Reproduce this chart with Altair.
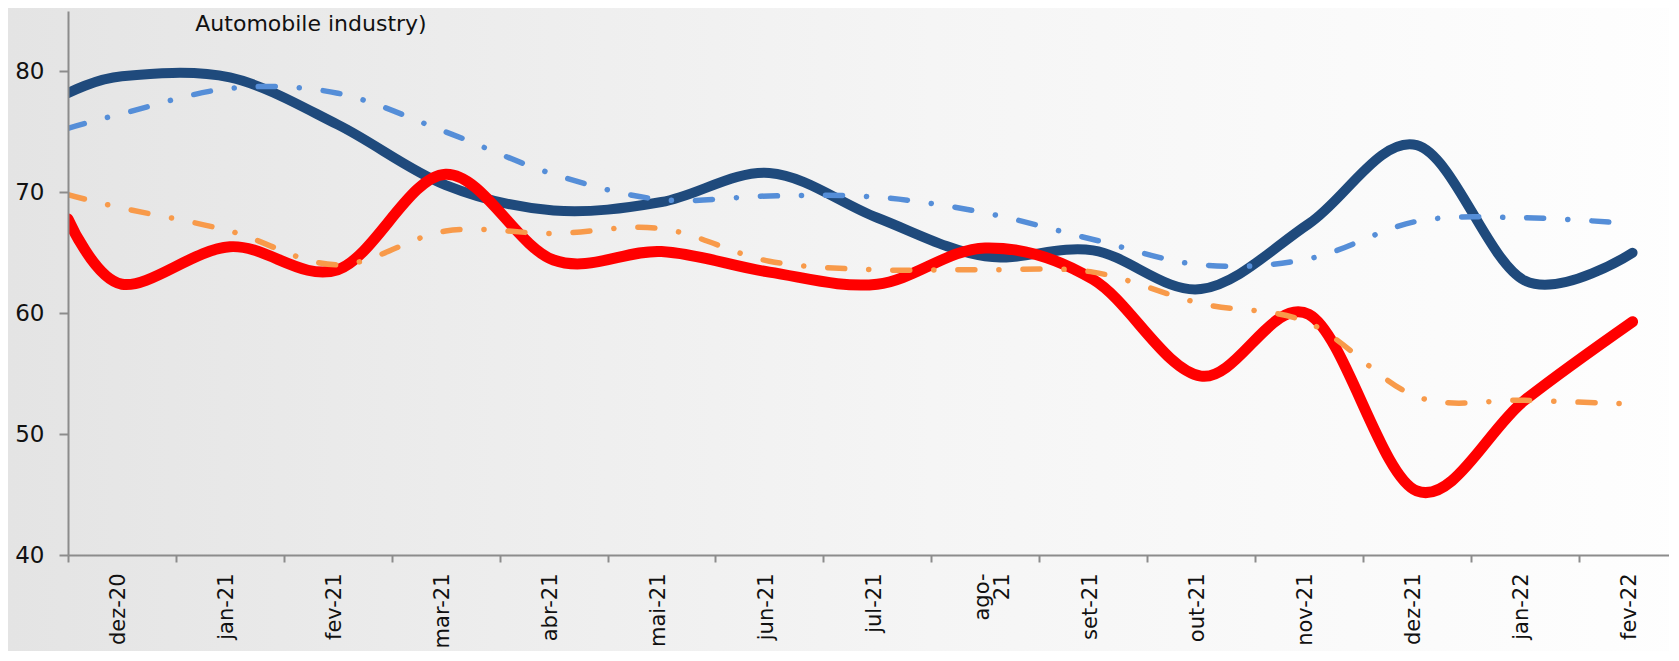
import json
import altair as alt
import pandas as pd

# ---------------- data ----------------
months = ["dez-20", "jan-21", "fev-21", "mar-21", "abr-21", "mai-21", "jun-21",
          "jul-21", "ago-21", "set-21", "out-21", "nov-21", "dez-21", "jan-22", "fev-22"]

navy_vals = [79.6, 79.5, 75.6, 70.6, 68.5, 69.2, 71.6, 67.9, 64.7, 65.2, 62.0, 67.4, 73.9, 62.7, 65.0]
red_vals = [62.4, 65.5, 63.6, 71.5, 64.4, 65.1, 63.4, 62.4, 65.4, 62.8, 54.8, 59.9, 45.3, 52.8, 59.3]
blue_vals = [76.5, 78.6, 78.2, 75.0, 71.5, 69.4, 69.7, 69.6, 68.3, 66.1, 64.0, 64.5, 67.6, 67.9, 67.4]
orange_vals = [68.7, 66.8, 64.0, 66.8, 66.6, 67.0, 64.3, 63.6, 63.6, 63.4, 60.8, 59.2, 53.1, 52.8, 52.5]

# value of each curve where it meets the left edge of the plot (y axis)
edge_vals = {"navy": 78.2, "red": 67.8, "blue": 75.3, "orange": 69.8}

y_ticks = [40, 50, 60, 70, 80]
title_text = "Automobile industry)"

# ---------------- table ----------------
series = {"navy": navy_vals, "red": red_vals, "blue": blue_vals, "orange": orange_vals}
rows = []
for name, vals in series.items():
    rows.append({"series": name, "pos": -0.5, "value": edge_vals[name]})
    for i, v in enumerate(vals):
        rows.append({"series": name, "pos": i, "value": v})
df = pd.DataFrame(rows)

# ---------------- layout ----------------
FONT = "DejaVu Sans"
W = 1601
H = 544
STEP = 107.9
XMAX = -0.5 + W / STEP

label_parts = [m if m != "ago-21" else ["ago-", "21"] for m in months]
label_expr = json.dumps(label_parts) + "[round(datum.value + 0.5)]"

x_scale = alt.Scale(domain=[-0.5, XMAX], nice=False, zero=False)
y_scale = alt.Scale(domain=[40, 85], nice=False, zero=False)

x_axis = alt.Axis(
    values=[k - 0.5 for k in range(len(months))],
    labelExpr=label_expr,
    labelAngle=270, labelAlign="right", labelBaseline="middle",
    labelOffset=STEP / 2 - 3, labelPadding=11, labelLineHeight=20,
    labelFont=FONT, labelFontSize=21, labelColor="#111111",
    labelFlush=False, labelOverlap=False, labelBound=False,
    tickSize=7, tickWidth=2, tickColor="#8c8c8c",
    domainColor="#8c8c8c", domainWidth=2,
    grid=False, title=None, zindex=1,
)
y_axis = alt.Axis(
    values=y_ticks,
    labelFont=FONT, labelFontSize=23, labelColor="#111111", labelPadding=15,
    tickSize=9, tickWidth=2, tickColor="#8c8c8c",
    domainColor="#8c8c8c", domainWidth=2,
    grid=False, title=None, zindex=1,
)

gradient = alt.LinearGradient(
    gradient="linear",
    stops=[alt.GradientStop(offset=0, color="#e4e4e4"),
           alt.GradientStop(offset=0.55, color="#f5f5f5"),
           alt.GradientStop(offset=1, color="#fefefe")],
    x1=0, x2=1, y1=0, y2=0,
)

bg = alt.Chart(alt.Data(values=[{"k": 1}])).mark_rect(fill=gradient, clip=False).encode(
    x=alt.value(-60), x2=alt.value(W + 20), y=alt.value(-10), y2=alt.value(H + 120)
)

styles = {
    "navy": dict(color="#1f4a7c", strokeWidth=10),
    "red": dict(color="#ff0000", strokeWidth=11),
    "blue": dict(color="#558ed8", strokeWidth=5.5, strokeDash=[17, 24, 0.1, 24]),
    "orange": dict(color="#f89a4a", strokeWidth=5.5, strokeDash=[17, 24, 0.1, 24]),
}

layers = [bg]
for name in ["navy", "red", "blue", "orange"]:
    layers.append(
        alt.Chart(df)
        .transform_filter(alt.datum.series == name)
        .mark_line(interpolate="cardinal", strokeCap="round", strokeJoin="round",
                   clip=True, **styles[name])
        .encode(
            x=alt.X("pos:Q", scale=x_scale, axis=x_axis),
            y=alt.Y("value:Q", scale=y_scale, axis=y_axis),
            order="pos:Q",
        )
    )

title_layer = alt.Chart(alt.Data(values=[{"t": title_text}])).mark_text(
    align="center", baseline="alphabetic", font=FONT, fontSize=22,
    color="#111111", clip=False,
).encode(x=alt.value(243), y=alt.value(20), text="t:N")
layers.append(title_layer)

chart = (
    alt.layer(*layers)
    .properties(
        width=W, height=H,
        autosize=alt.AutoSizeParams(type="none"),
        padding={"left": 60, "top": 3, "right": 0, "bottom": 96},
        background="#ffffff",
    )
    .configure_view(stroke=None)
)

chart.save("out.html", embed_options={"renderer": "svg", "actions": False})
